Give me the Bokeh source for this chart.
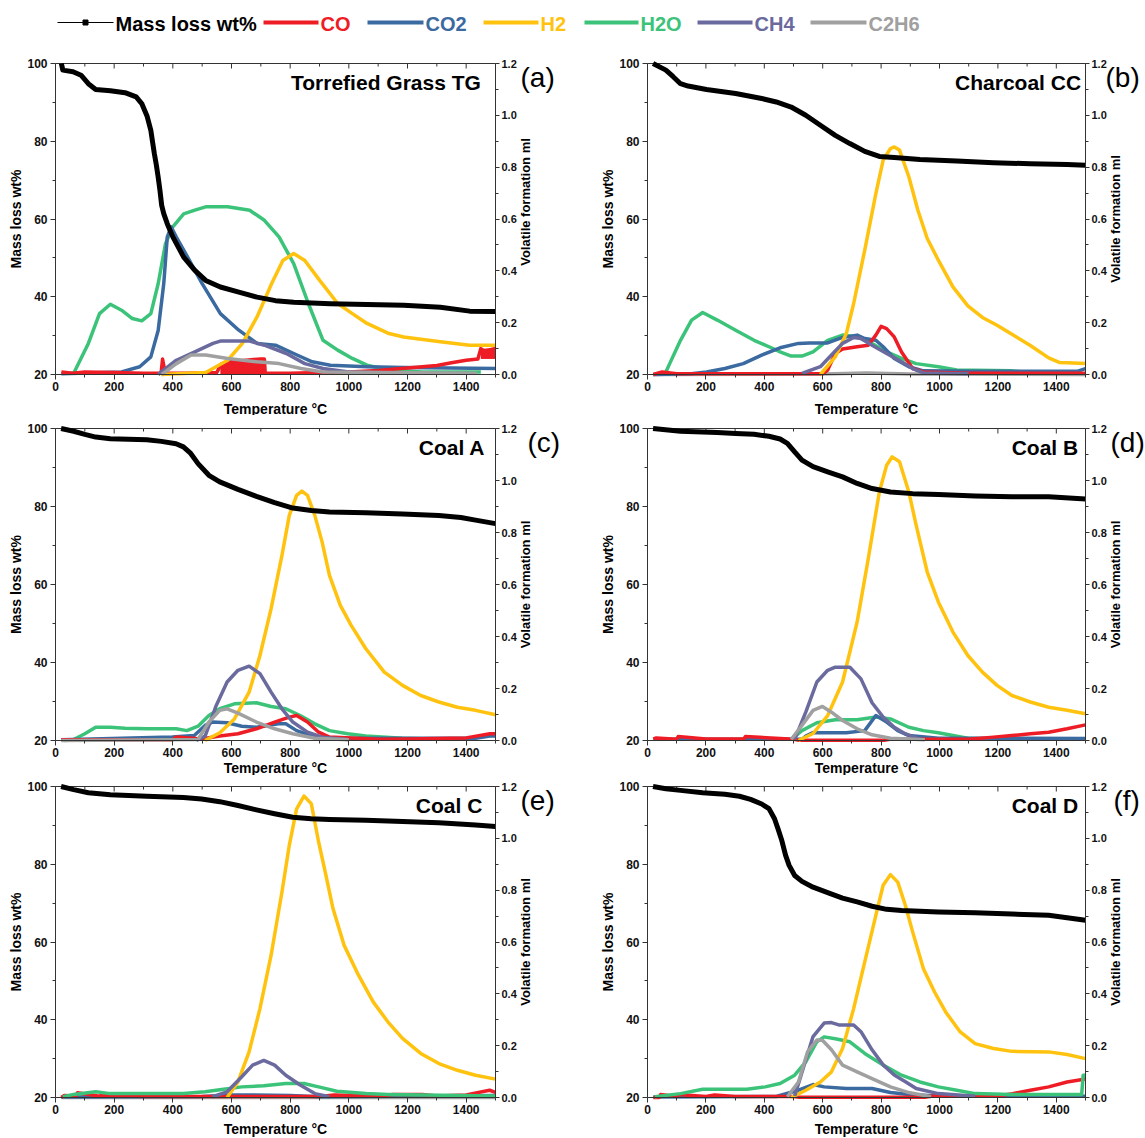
import math
from bokeh.plotting import figure
from bokeh.models import Range1d, LinearAxis, Label, FixedTicker, NumeralTickFormatter
from bokeh.layouts import column, row
from bokeh.embed import file_html
from bokeh.resources import INLINE
from bokeh.core.properties import value

FONT = "Liberation Sans Narrow, Liberation Sans, Arial, sans-serif"

SERIES = ["Mass loss wt%", "CO", "CO2", "H2", "H2O", "CH4", "C2H6"]
COLORS = {"Mass loss wt%": "#000000", "CO": "#ee1c25", "CO2": "#3a6aa0", "H2": "#ffc20e",
          "H2O": "#3cc37a", "CH4": "#6a6a9e", "C2H6": "#a0a0a0"}

# axis ticks
X_MAJOR = [0, 200, 400, 600, 800, 1000, 1200, 1400]
X_MINOR = [100, 300, 500, 700, 900, 1100, 1300, 1500]
MASS_TICKS = [20, 40, 60, 80, 100]
MASS_MINOR = [30, 50, 70, 90]
VOL_TICKS = [0.0, 0.2, 0.4, 0.6, 0.8, 1.0, 1.2]
VOL_MINOR = [0.1, 0.3, 0.5, 0.7, 0.9, 1.1]

# ---------------- (a) Torrefied Grass TG ----------------
TG_MASS_T = [20, 25, 60, 87, 112, 137, 187, 237, 275, 294, 312, 325, 331, 337, 344, 350, 356, 362, 369, 381, 400, 437, 475, 512, 562, 625, 687, 750, 812, 937, 1062, 1187, 1312, 1412, 1500]
TG_MASS = [100, 98.3, 97.9, 97.0, 94.8, 93.3, 93.0, 92.5, 91.4, 89.7, 86.5, 82.8, 79.8, 76.8, 73.8, 70.8, 67.4, 63.5, 61.4, 58.8, 55.4, 50.2, 46.8, 44.2, 42.5, 41.2, 39.9, 39.0, 38.6, 38.2, 38.0, 37.8, 37.3, 36.3, 36.2]
TG_H2O_T = [60, 112, 150, 187, 225, 262, 294, 325, 350, 375, 400, 437, 475, 512, 587, 662, 712, 762, 812, 862, 912, 962, 1012, 1062, 1137, 1250, 1450]
TG_H2O = [0.0, 0.12, 0.235, 0.271, 0.248, 0.216, 0.207, 0.235, 0.35, 0.505, 0.57, 0.62, 0.634, 0.647, 0.647, 0.634, 0.595, 0.531, 0.428, 0.274, 0.132, 0.094, 0.062, 0.036, 0.017, 0.01, 0.01]
TG_CO2_T = [20, 225, 287, 325, 350, 369, 381, 394, 412, 450, 500, 562, 625, 687, 750, 812, 875, 937, 1062, 1187, 1500]
TG_CO2 = [0.003, 0.01, 0.03, 0.068, 0.17, 0.35, 0.53, 0.57, 0.53, 0.454, 0.351, 0.235, 0.171, 0.12, 0.113, 0.081, 0.049, 0.036, 0.03, 0.027, 0.023]
TG_H2_T = [360, 512, 587, 637, 687, 737, 775, 812, 850, 900, 962, 1012, 1062, 1137, 1187, 1312, 1412, 1500]
TG_H2 = [0.0, 0.008, 0.055, 0.12, 0.222, 0.351, 0.44, 0.467, 0.44, 0.364, 0.274, 0.235, 0.197, 0.158, 0.145, 0.126, 0.113, 0.113]
TG_CH4_T = [350, 412, 475, 537, 562, 662, 712, 787, 850, 912, 1000, 1187]
TG_CH4 = [0.0, 0.055, 0.087, 0.12, 0.129, 0.129, 0.113, 0.081, 0.042, 0.023, 0.01, 0.005]
TG_C2H6_T = [362, 412, 462, 512, 587, 687, 762, 837, 912, 1437]
TG_C2H6 = [0.0, 0.042, 0.075, 0.075, 0.062, 0.049, 0.042, 0.023, 0.01, 0.005]
TG_CO_T = [20, 60, 100, 200, 300, 360, 365, 370, 380, 450, 550, 565, 600, 650, 700, 712, 715, 800, 900, 1000, 1100, 1150, 1200, 1250, 1300, 1350, 1400, 1440, 1450, 1460, 1500]
TG_CO = [0.01, 0.005, 0.01, 0.008, 0.005, 0.005, 0.06, 0.03, 0.005, 0.005, 0.008, 0.04, 0.05, 0.055, 0.06, 0.06, 0.005, 0.005, 0.008, 0.01, 0.015, 0.02, 0.025, 0.03, 0.035, 0.045, 0.055, 0.06, 0.1, 0.09, 0.1]
TG_CO_BAND_T = [562, 580, 620, 660, 712, 1450, 1500]
TG_CO_BAND_LO = [0.0, 0.0, 0.0, 0.0, 0.0, 0.06, 0.06]
TG_CO_BAND_HI = [0.03, 0.05, 0.055, 0.06, 0.06, 0.1, 0.1]

# ---------------- (b) Charcoal CC ----------------
CC_MASS_T = [19, 63, 88, 113, 139, 202, 302, 391, 441, 492, 542, 592, 643, 693, 744, 794, 845, 933, 1059, 1185, 1311, 1437, 1500]
CC_MASS = [100, 98.3, 96.6, 94.8, 94.2, 93.3, 92.3, 91.0, 90.1, 88.8, 86.7, 84.1, 81.5, 79.4, 77.4, 76.1, 75.8, 75.3, 74.9, 74.5, 74.2, 74.0, 73.8]
CC_H2_T = [592, 643, 681, 706, 744, 782, 807, 832, 845, 863, 895, 926, 958, 996, 1046, 1097, 1147, 1197, 1248, 1311, 1374, 1412, 1500]
CC_H2 = [0.0, 0.068, 0.158, 0.274, 0.48, 0.698, 0.827, 0.872, 0.878, 0.866, 0.763, 0.634, 0.525, 0.441, 0.338, 0.265, 0.22, 0.19, 0.155, 0.112, 0.064, 0.046, 0.042]
CC_H2O_T = [63, 76, 113, 151, 189, 239, 302, 365, 416, 454, 492, 529, 567, 617, 668, 718, 769, 819, 870, 920, 996, 1059, 1248, 1311]
CC_H2O = [0.01, 0.042, 0.132, 0.21, 0.239, 0.21, 0.171, 0.132, 0.107, 0.087, 0.071, 0.071, 0.087, 0.132, 0.152, 0.145, 0.12, 0.087, 0.062, 0.042, 0.03, 0.017, 0.014, 0.006]
CC_CO2_T = [20, 150, 202, 265, 328, 391, 454, 517, 555, 617, 668, 718, 744, 782, 807, 845, 895, 945, 1122, 1474, 1500]
CC_CO2 = [0.0, 0.003, 0.01, 0.023, 0.042, 0.075, 0.103, 0.12, 0.122, 0.122, 0.143, 0.152, 0.139, 0.132, 0.107, 0.062, 0.03, 0.014, 0.013, 0.013, 0.023]
CC_CH4_T = [529, 592, 630, 668, 706, 731, 769, 819, 870, 908, 945, 1100]
CC_CH4 = [0.004, 0.03, 0.075, 0.12, 0.143, 0.139, 0.113, 0.081, 0.049, 0.023, 0.006, 0.003]
CC_CO_T = [20, 50, 100, 300, 600, 617, 643, 668, 718, 756, 782, 800, 819, 845, 870, 908, 945, 1100, 1500]
CC_CO = [0.0, 0.01, 0.003, 0.003, 0.003, 0.017, 0.081, 0.098, 0.107, 0.113, 0.152, 0.186, 0.177, 0.145, 0.087, 0.023, 0.01, 0.005, 0.005]
CC_C2H6_T = [20, 600, 750, 900, 1500]
CC_C2H6 = [0.0, 0.002, 0.006, 0.002, 0.0]

# ---------------- (c) Coal A ----------------
CA_MASS_T = [19, 62, 100, 137, 187, 311, 361, 411, 436, 461, 486, 523, 560, 622, 685, 747, 809, 872, 934, 1058, 1183, 1307, 1382, 1432, 1500]
CA_MASS = [100, 99.3, 98.5, 97.8, 97.4, 97.1, 96.7, 96.1, 95.3, 93.6, 91.0, 88.0, 86.3, 84.4, 82.6, 81.0, 79.6, 79.0, 78.6, 78.4, 78.1, 77.7, 77.2, 76.5, 75.6]
CA_H2_T = [510, 560, 610, 660, 697, 735, 772, 797, 822, 840, 859, 884, 909, 934, 971, 1008, 1058, 1121, 1183, 1245, 1307, 1370, 1432, 1500]
CA_H2 = [0.0, 0.03, 0.083, 0.186, 0.327, 0.507, 0.712, 0.866, 0.943, 0.959, 0.943, 0.866, 0.763, 0.635, 0.52, 0.443, 0.353, 0.263, 0.212, 0.173, 0.148, 0.128, 0.116, 0.099]
CA_CH4_T = [480, 510, 548, 585, 622, 660, 697, 735, 772, 809, 859, 909, 996]
CA_CH4 = [0.0, 0.017, 0.135, 0.225, 0.27, 0.286, 0.257, 0.186, 0.122, 0.071, 0.032, 0.013, 0.004]
CA_H2O_T = [31, 62, 100, 137, 187, 237, 311, 411, 448, 486, 523, 560, 610, 685, 735, 785, 834, 884, 934, 996, 1058, 1183, 1307]
CA_H2O = [0.0, 0.004, 0.026, 0.051, 0.051, 0.047, 0.045, 0.045, 0.038, 0.055, 0.096, 0.122, 0.141, 0.145, 0.131, 0.122, 0.096, 0.064, 0.038, 0.026, 0.017, 0.009, 0.005]
CA_C2H6_T = [20, 486, 523, 560, 585, 622, 685, 747, 809, 884, 1000]
CA_C2H6 = [0.0, 0.004, 0.071, 0.116, 0.122, 0.105, 0.071, 0.045, 0.026, 0.009, 0.003]
CA_CO2_T = [20, 398, 473, 510, 535, 585, 635, 685, 760, 785, 822, 872, 934, 1432, 1481, 1500]
CA_CO2 = [0.003, 0.013, 0.019, 0.058, 0.071, 0.068, 0.055, 0.051, 0.064, 0.064, 0.038, 0.019, 0.009, 0.009, 0.017, 0.017]
CA_CO_T = [20, 400, 411, 498, 560, 622, 685, 747, 797, 822, 859, 897, 934, 1100, 1200, 1300, 1400, 1481, 1500]
CA_CO = [0.003, 0.003, 0.013, 0.006, 0.017, 0.026, 0.045, 0.071, 0.09, 0.096, 0.071, 0.032, 0.013, 0.005, 0.006, 0.008, 0.01, 0.026, 0.026]

# ---------------- (d) Coal B ----------------
CB_MASS_T = [19, 113, 239, 302, 365, 416, 454, 479, 504, 529, 567, 617, 668, 718, 769, 832, 908, 996, 1122, 1248, 1374, 1500]
CB_MASS = [100, 99.3, 99.0, 98.7, 98.5, 98.0, 97.3, 96.2, 94.0, 91.9, 90.2, 88.9, 87.6, 85.9, 84.6, 83.7, 83.3, 83.1, 82.7, 82.5, 82.5, 81.9]
CB_H2_T = [517, 567, 617, 668, 718, 756, 794, 819, 838, 863, 895, 920, 958, 996, 1046, 1097, 1147, 1197, 1248, 1311, 1374, 1437, 1500]
CB_H2 = [0.0, 0.027, 0.096, 0.225, 0.456, 0.699, 0.956, 1.059, 1.091, 1.072, 0.956, 0.828, 0.648, 0.533, 0.417, 0.327, 0.263, 0.212, 0.173, 0.148, 0.128, 0.116, 0.103]
CB_CH4_T = [504, 542, 580, 617, 643, 693, 731, 769, 807, 845, 882, 933]
CB_CH4 = [0.004, 0.109, 0.225, 0.27, 0.282, 0.282, 0.237, 0.145, 0.09, 0.051, 0.026, 0.004]
CB_C2H6_T = [492, 529, 567, 599, 630, 668, 718, 769, 832, 950]
CB_C2H6 = [0.004, 0.058, 0.116, 0.131, 0.109, 0.077, 0.045, 0.022, 0.009, 0.003]
CB_H2O_T = [492, 529, 580, 643, 718, 782, 832, 895, 945, 996, 1046, 1097, 1185]
CB_H2O = [0.004, 0.038, 0.068, 0.08, 0.08, 0.09, 0.083, 0.051, 0.038, 0.03, 0.019, 0.009, 0.005]
CB_CO2_T = [20, 530, 542, 567, 681, 744, 782, 819, 857, 895, 996, 1500]
CB_CO2 = [0.005, 0.005, 0.017, 0.03, 0.03, 0.038, 0.096, 0.071, 0.038, 0.019, 0.009, 0.008]
CB_CO_T = [20, 30, 100, 105, 200, 330, 335, 500, 520, 810, 830, 1100, 1185, 1248, 1311, 1374, 1437, 1500]
CB_CO = [0.005, 0.01, 0.005, 0.015, 0.006, 0.006, 0.015, 0.005, 0.001, 0.001, 0.005, 0.005, 0.013, 0.019, 0.026, 0.032, 0.045, 0.06]

# ---------------- (e) Coal C ----------------
CCO_MASS_T = [19, 62, 112, 187, 311, 436, 498, 560, 622, 685, 747, 809, 872, 934, 1058, 1183, 1307, 1432, 1500]
CCO_MASS = [100, 99.2, 98.4, 97.9, 97.5, 97.2, 96.8, 96.1, 95.1, 94.0, 93.0, 92.1, 91.7, 91.5, 91.3, 91.0, 90.7, 90.1, 89.7]
CCO_H2_T = [585, 622, 660, 697, 735, 772, 797, 822, 847, 872, 897, 922, 946, 984, 1033, 1083, 1133, 1183, 1245, 1307, 1370, 1432, 1500]
CCO_H2 = [0.0, 0.06, 0.176, 0.343, 0.549, 0.793, 0.973, 1.114, 1.163, 1.134, 0.986, 0.857, 0.729, 0.587, 0.472, 0.369, 0.292, 0.228, 0.17, 0.131, 0.105, 0.086, 0.071]
CCO_CH4_T = [535, 585, 635, 672, 710, 747, 785, 834, 884, 934]
CCO_CH4 = [0.003, 0.022, 0.08, 0.125, 0.143, 0.125, 0.086, 0.048, 0.015, 0.003]
CCO_H2O_T = [25, 62, 137, 187, 436, 510, 573, 635, 710, 785, 847, 897, 959, 1058, 1133, 1500]
CCO_H2O = [0.003, 0.012, 0.022, 0.015, 0.015, 0.022, 0.032, 0.041, 0.045, 0.054, 0.054, 0.041, 0.024, 0.015, 0.012, 0.006]
CCO_CO2_T = [20, 500, 600, 800, 900, 1500]
CCO_CO2 = [0.002, 0.004, 0.01, 0.008, 0.003, 0.008]
CCO_CO_T = [20, 30, 70, 75, 150, 160, 300, 900, 950, 1100, 1150, 1250, 1300, 1400, 1480, 1500]
CCO_CO = [0.0, 0.008, 0.006, 0.018, 0.005, 0.01, 0.004, 0.004, 0.01, 0.005, 0.012, 0.012, 0.006, 0.01, 0.028, 0.02]
CCO_C2H6_T = [20, 1500]
CCO_C2H6 = [0.0, 0.0]

# ---------------- (f) Coal D ----------------
CD_MASS_T = [19, 63, 113, 189, 265, 315, 353, 391, 416, 435, 447, 460, 473, 485, 504, 529, 567, 617, 668, 718, 769, 819, 870, 996, 1122, 1248, 1374, 1500]
CD_MASS = [100, 99.4, 99.0, 98.4, 98.0, 97.5, 96.7, 95.5, 94.3, 91.7, 89.1, 86.1, 82.3, 79.7, 77.1, 75.6, 74.1, 72.7, 71.3, 70.3, 69.2, 68.4, 68.1, 67.7, 67.5, 67.2, 66.9, 65.6]
CD_H2_T = [492, 542, 592, 630, 668, 706, 744, 782, 807, 832, 857, 883, 908, 945, 983, 1021, 1071, 1122, 1185, 1248, 1374, 1437, 1500]
CD_H2 = [0.0, 0.028, 0.06, 0.099, 0.189, 0.343, 0.523, 0.703, 0.819, 0.86, 0.831, 0.742, 0.639, 0.497, 0.407, 0.33, 0.253, 0.208, 0.189, 0.178, 0.176, 0.166, 0.15]
CD_CH4_T = [504, 542, 567, 605, 630, 655, 706, 731, 769, 807, 845, 882, 920, 996, 1122]
CD_CH4 = [0.006, 0.145, 0.235, 0.287, 0.289, 0.28, 0.28, 0.254, 0.184, 0.126, 0.087, 0.062, 0.035, 0.015, 0.005]
CD_H2O_T = [25, 113, 189, 340, 403, 454, 504, 542, 580, 605, 643, 693, 744, 807, 870, 933, 996, 1059, 1122, 1248, 1487, 1492, 1500]
CD_H2O = [0.003, 0.015, 0.032, 0.032, 0.041, 0.054, 0.086, 0.137, 0.215, 0.234, 0.227, 0.215, 0.17, 0.125, 0.086, 0.06, 0.041, 0.028, 0.015, 0.012, 0.012, 0.086, 0.086]
CD_C2H6_T = [479, 517, 548, 580, 599, 630, 668, 718, 769, 832, 895, 971]
CD_C2H6 = [0.003, 0.06, 0.176, 0.222, 0.221, 0.184, 0.125, 0.099, 0.073, 0.041, 0.019, 0.003]
CD_CO2_T = [20, 441, 517, 567, 605, 681, 769, 832, 895, 996, 1500]
CD_CO2 = [0.002, 0.004, 0.028, 0.05, 0.041, 0.035, 0.035, 0.019, 0.012, 0.006, 0.005]
CD_CO_T = [20, 40, 45, 100, 105, 200, 230, 300, 500, 520, 950, 970, 1200, 1250, 1311, 1374, 1437, 1500]
CD_CO = [0.0, 0.0, 0.012, 0.004, 0.012, 0.004, 0.01, 0.004, 0.004, 0.001, 0.001, 0.005, 0.006, 0.015, 0.028, 0.041, 0.06, 0.071]

PANELS = [
    dict(title="Torrefied Grass TG", tag="(a)",
         mass=(TG_MASS_T, TG_MASS),
         gases={"H2O": (TG_H2O_T, TG_H2O), "CO2": (TG_CO2_T, TG_CO2), "CO": (TG_CO_T, TG_CO),
                "H2": (TG_H2_T, TG_H2), "CH4": (TG_CH4_T, TG_CH4), "C2H6": (TG_C2H6_T, TG_C2H6)},
         band=(TG_CO_BAND_T, TG_CO_BAND_LO, TG_CO_BAND_HI)),
    dict(title="Charcoal CC", tag="(b)",
         mass=(CC_MASS_T, CC_MASS),
         gases={"C2H6": (CC_C2H6_T, CC_C2H6), "H2O": (CC_H2O_T, CC_H2O), "CO2": (CC_CO2_T, CC_CO2),
                "CO": (CC_CO_T, CC_CO), "H2": (CC_H2_T, CC_H2), "CH4": (CC_CH4_T, CC_CH4)}),
    dict(title="Coal A", tag="(c)",
         mass=(CA_MASS_T, CA_MASS),
         gases={"H2O": (CA_H2O_T, CA_H2O), "CO2": (CA_CO2_T, CA_CO2), "CO": (CA_CO_T, CA_CO),
                "H2": (CA_H2_T, CA_H2), "CH4": (CA_CH4_T, CA_CH4), "C2H6": (CA_C2H6_T, CA_C2H6)}),
    dict(title="Coal B", tag="(d)",
         mass=(CB_MASS_T, CB_MASS),
         gases={"H2O": (CB_H2O_T, CB_H2O), "CO2": (CB_CO2_T, CB_CO2), "CO": (CB_CO_T, CB_CO),
                "H2": (CB_H2_T, CB_H2), "CH4": (CB_CH4_T, CB_CH4), "C2H6": (CB_C2H6_T, CB_C2H6)}),
    dict(title="Coal C", tag="(e)",
         mass=(CCO_MASS_T, CCO_MASS),
         gases={"C2H6": (CCO_C2H6_T, CCO_C2H6), "CO2": (CCO_CO2_T, CCO_CO2), "CO": (CCO_CO_T, CCO_CO),
                "H2O": (CCO_H2O_T, CCO_H2O), "H2": (CCO_H2_T, CCO_H2), "CH4": (CCO_CH4_T, CCO_CH4)}),
    dict(title="Coal D", tag="(f)",
         mass=(CD_MASS_T, CD_MASS),
         gases={"CO2": (CD_CO2_T, CD_CO2), "CO": (CD_CO_T, CD_CO), "H2O": (CD_H2O_T, CD_H2O),
                "H2": (CD_H2_T, CD_H2), "CH4": (CD_CH4_T, CD_CH4), "C2H6": (CD_C2H6_T, CD_C2H6)}),
]

# ---------------- layout constants (pixels) ----------------
ROW_H = [370, 360, 363]
ROW_TOP = [18, 13, 11]          # canvas top -> 100 wt% line
ROW_BOTTOM = [41, 35, 41]       # 20 wt% line -> canvas bottom
XLABEL_STANDOFF = [7, 0, 4]
COL_W = [572, 573]
COL_LEFT = [55, 75]             # canvas left -> 0 °C line
COL_PLOT_W = [440, 438]         # pixel width of the 0..1500 span
TITLE_X = [1450, 1485, 1465, 1475, 1455, 1475]
TAG_DX = [25, 20, 32, 25, 25, 28]
VOL_LABEL_DY = [17, 0, 0, 0, 0, 0]
T_END = 1500
M_LO, M_HI = 20, 100
V_LO, V_HI = 0.0, 1.2


def style_axis(ax):
    ax.axis_line_color = "#333333"
    ax.major_tick_line_color = "#333333"
    ax.minor_tick_line_color = "#333333"
    ax.major_tick_in = 0
    ax.major_tick_out = 5
    ax.minor_tick_in = 0
    ax.minor_tick_out = 3
    ax.major_label_text_font = FONT
    ax.major_label_text_font_style = "bold"
    ax.major_label_text_font_size = "12px"
    ax.major_label_text_color = "#111111"
    ax.axis_label_text_font = FONT
    ax.axis_label_text_font_style = "bold"
    ax.axis_label_text_font_size = "14px"
    ax.axis_label_text_color = "#000000"


def make_panel(i, cfg):
    r, c = divmod(i, 2)
    H = ROW_H[r]
    plot_h = H - ROW_TOP[r] - ROW_BOTTOM[r]
    ppu = plot_h / (M_HI - M_LO)                 # px per wt%
    y_hi = M_HI + ROW_TOP[r] / ppu
    y_lo = M_LO - ROW_BOTTOM[r] / ppu
    k = (V_HI - V_LO) / (M_HI - M_LO)
    ppx = COL_PLOT_W[c] / T_END                  # px per °C
    x_min = -COL_LEFT[c] / ppx
    x_max = x_min + COL_W[c] / ppx

    p = figure(width=COL_W[c], height=H, x_range=Range1d(x_min, x_max), y_range=Range1d(y_lo, y_hi),
               output_backend="svg", toolbar_location=None,
               min_border_left=0, min_border_right=0, min_border_top=0, min_border_bottom=0,
               x_axis_location=None, y_axis_location=None)
    p.extra_y_ranges = {"vol": Range1d(V_LO + (y_lo - M_LO) * k, V_LO + (y_hi - M_LO) * k)}
    p.xgrid.visible = False
    p.ygrid.visible = False
    p.outline_line_color = None
    p.background_fill_color = "white"
    p.border_fill_color = "white"

    ya = LinearAxis(ticker=FixedTicker(ticks=MASS_TICKS, minor_ticks=MASS_MINOR), bounds=(M_LO, M_HI),
                    fixed_location=0, axis_label="Mass loss wt%")
    style_axis(ya)
    ya.major_label_standoff = 3
    ya.axis_label_standoff = 0
    p.add_layout(ya, "left")

    xa = LinearAxis(ticker=FixedTicker(ticks=X_MAJOR, minor_ticks=X_MINOR), bounds=(0, T_END),
                    fixed_location=M_LO, axis_label="Temperature °C")
    style_axis(xa)
    xa.major_label_standoff = 2
    xa.axis_label_standoff = XLABEL_STANDOFF[r]
    p.add_layout(xa, "below")

    ra = LinearAxis(y_range_name="vol", ticker=FixedTicker(ticks=VOL_TICKS, minor_ticks=VOL_MINOR),
                    formatter=NumeralTickFormatter(format="0.0"), bounds=(V_LO, V_HI),
                    fixed_location=T_END)
    style_axis(ra)
    ra.major_tick_out = 4
    ra.major_label_standoff = 2
    ra.major_label_text_font_size = "11px"
    p.add_layout(ra, "right")

    # top frame edge with inward ticks
    tick_major = 5 / ppu
    tick_minor = 3 / ppu
    p.segment(x0=[0], y0=[M_HI], x1=[T_END], y1=[M_HI], line_color="#333333", line_width=1)
    p.segment(x0=X_MAJOR, y0=[M_HI] * len(X_MAJOR), x1=X_MAJOR, y1=[M_HI - tick_major] * len(X_MAJOR),
              line_color="#333333", line_width=1)
    p.segment(x0=X_MINOR, y0=[M_HI] * len(X_MINOR), x1=X_MINOR, y1=[M_HI - tick_minor] * len(X_MINOR),
              line_color="#333333", line_width=1)

    if "band" in cfg:
        bt, blo, bhi = cfg["band"]
        p.varea(x=bt[:5], y1=blo[:5], y2=bhi[:5], fill_color=COLORS["CO"], y_range_name="vol")
        p.varea(x=bt[5:], y1=blo[5:], y2=bhi[5:], fill_color=COLORS["CO"], y_range_name="vol")

    for gas, (tx, vy) in cfg["gases"].items():
        p.line(tx, vy, line_color=COLORS[gas], line_width=3.5, y_range_name="vol", line_join="round")

    mt, mv = cfg["mass"]
    p.line(mt, mv, line_color="black", line_width=5, line_join="round")

    p.add_layout(Label(x=TITLE_X[i], y=98, text=cfg["title"], text_align="right", text_baseline="top",
                       text_font=FONT, text_font_style="bold", text_font_size="21px", text_color="black"))
    p.add_layout(Label(x=T_END + TAG_DX[i] / ppx, y=M_HI - 14 / ppu, text=cfg["tag"], text_align="left",
                       text_baseline="middle", text_font=FONT, text_font_size="28px", text_color="black"))
    p.add_layout(Label(x=T_END + 30 / ppx, y=(M_LO + M_HI) / 2 + VOL_LABEL_DY[i] / ppu,
                       text="Volatile formation ml", angle=math.pi / 2, text_align="center",
                       text_baseline="middle", text_font=FONT, text_font_style="bold",
                       text_font_size="13px", text_color="black"))
    return p


panels = [make_panel(i, cfg) for i, cfg in enumerate(PANELS)]

# ---------------- legend strip ----------------
leg = figure(width=1145, height=45, x_range=Range1d(0, 1145), y_range=Range1d(0, 45),
             output_backend="svg", toolbar_location=None, min_border=0)
leg.axis.visible = False
leg.xgrid.visible = False
leg.ygrid.visible = False
leg.outline_line_color = None
LEG_X0 = [57, 263, 367, 483, 584, 697, 810]
LEG_X1 = [113, 318, 423, 538, 638, 752, 866]
for name, x0, x1 in zip(SERIES, LEG_X0, LEG_X1):
    col = COLORS[name]
    if name == "Mass loss wt%":
        leg.segment(x0=[x0], y0=[23], x1=[x1], y1=[23], line_color="black", line_width=1.2)
        leg.scatter(x=[(x0 + x1) / 2], y=[23], marker="square", size=5, color="black")
    else:
        leg.segment(x0=[x0], y0=[23], x1=[x1], y1=[23], line_color=col, line_width=4)
    leg.text(x=[x1 + 2], y=[22], text=[name], text_color=col, text_font=value(FONT),
             text_font_style="bold", text_font_size="20px", text_baseline="middle", text_align="left")

layout = column(leg, row(panels[0], panels[1]), row(panels[2], panels[3]), row(panels[4], panels[5]))
open("out.html", "w").write(file_html(layout, INLINE))
